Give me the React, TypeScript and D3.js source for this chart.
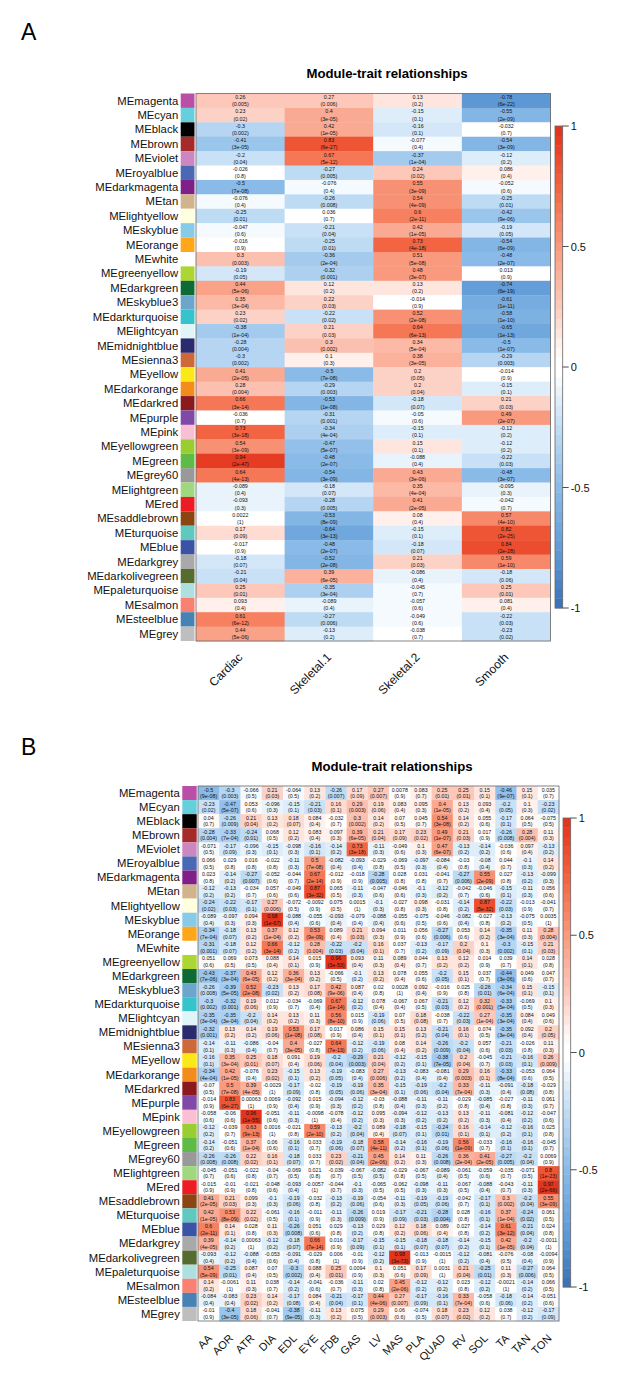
import React from "react";
import * as d3 from "d3";

const modules = ["MEmagenta","MEcyan","MEblack","MEbrown","MEviolet","MEroyalblue","MEdarkmagenta","MEtan","MElightyellow","MEskyblue","MEorange","MEwhite","MEgreenyellow","MEdarkgreen","MEskyblue3","MEdarkturquoise","MElightcyan","MEmidnightblue","MEsienna3","MEyellow","MEdarkorange","MEdarkred","MEpurple","MEpink","MEyellowgreen","MEgreen","MEgrey60","MElightgreen","MEred","MEsaddlebrown","MEturquoise","MEblue","MEdarkgrey","MEdarkolivegreen","MEpaleturquoise","MEsalmon","MEsteelblue","MEgrey"];
const moduleColors = ["#b94fa7","#65cfdc","#000000","#a52a2a","#cc86c0","#4b68b5","#7f2088","#d2b48c","#ffffe0","#87cbe8","#ffa61a","#ffffff","#acd632","#0e6b36","#6ca6cd","#36c4cc","#e0f5f8","#2a2a6e","#cd6839","#fbe816","#f28c1c","#8b1a1f","#8049a8","#f9c0d4","#9acd32","#5fbb46","#999999","#a0d87f","#ed1c24","#8b4513","#5fc9bf","#3a53a4","#a9a9a9","#556b2f","#afe0e0","#fa8072","#4682b4","#bebebe"];

const traitsA = ["Cardiac","Skeletal.1","Skeletal.2","Smooth"];
const rA = [
[0.26,0.27,0.13,-0.78],[0.23,0.4,-0.15,-0.55],[-0.3,0.42,-0.16,-0.032],[-0.41,0.83,-0.077,-0.54],[-0.2,0.67,-0.37,-0.12],
[-0.026,-0.27,0.24,0.086],[-0.5,-0.076,0.55,-0.052],[-0.076,-0.26,0.54,-0.25],[-0.25,0.036,0.6,-0.42],[-0.047,-0.21,0.42,-0.19],
[-0.016,-0.25,0.73,-0.54],[0.3,-0.36,0.51,-0.48],[-0.19,-0.32,0.48,0.013],[0.44,0.12,0.13,-0.74],[0.35,0.22,-0.014,-0.61],
[0.23,-0.22,0.52,-0.58],[-0.38,0.21,0.64,-0.65],[-0.28,0.3,0.34,-0.5],[-0.3,0.1,0.38,-0.29],[0.41,-0.5,0.2,-0.014],
[0.28,-0.29,0.2,-0.15],[0.66,-0.53,-0.18,0.21],[-0.036,-0.31,-0.05,0.49],[0.73,-0.34,-0.15,-0.12],[0.54,-0.47,0.15,-0.12],
[0.94,-0.48,-0.088,-0.22],[0.64,-0.54,0.43,-0.48],[-0.089,-0.18,0.35,-0.095],[-0.093,-0.28,0.41,-0.042],[0.0022,-0.53,0.08,0.57],
[0.17,-0.64,-0.15,0.82],[-0.017,-0.48,-0.18,0.84],[-0.18,-0.52,0.21,0.59],[-0.21,0.39,-0.086,-0.18],[0.25,-0.35,-0.045,0.25],
[0.093,-0.089,-0.057,0.081],[0.61,-0.27,-0.049,-0.22],[0.44,-0.13,-0.038,-0.23]];
const pA = [
["0.005","0.006","0.2","6e-22"],["0.02","3e-05","0.1","2e-09"],["0.002","1e-05","0.1","0.7"],["3e-05","6e-27","0.4","3e-09"],["0.04","5e-12","1e-04","0.2"],
["0.8","0.005","0.02","0.4"],["7e-08","0.4","3e-09","0.6"],["0.4","0.008","4e-09","0.01"],["0.01","0.7","2e-11","9e-06"],["0.6","0.04","1e-05","0.05"],
["0.9","0.01","4e-18","6e-09"],["0.003","2e-04","5e-08","2e-07"],["0.05","0.001","3e-07","0.9"],["5e-06","0.2","0.2","6e-19"],["3e-04","0.03","0.9","1e-11"],
["0.02","0.02","2e-08","1e-10"],["1e-04","0.03","6e-13","1e-13"],["0.004","0.002","5e-04","1e-07"],["0.002","0.3","3e-05","0.003"],["2e-05","7e-08","0.05","0.9"],
["0.004","0.003","0.04","0.1"],["3e-14","1e-08","0.07","0.03"],["0.7","0.001","0.6","2e-07"],["3e-18","4e-04","0.1","0.2"],["3e-09","5e-07","0.1","0.2"],
["2e-47","2e-07","0.4","0.03"],["4e-13","3e-09","3e-06","3e-07"],["0.4","0.07","4e-04","0.3"],["0.3","0.005","2e-05","0.7"],["1","8e-09","0.4","4e-10"],
["0.09","3e-13","0.1","2e-25"],["0.9","2e-07","0.07","2e-28"],["0.07","2e-08","0.03","1e-10"],["0.04","6e-05","0.4","0.06"],["0.01","3e-04","0.7","0.01"],
["0.4","0.4","0.6","0.4"],["6e-12","0.006","0.6","0.03"],["5e-06","0.2","0.7","0.02"]];

const traitsB = ["AA","AOR","ATR","DIA","EDL","EYE","FDB","GAS","LV","MAS","PLA","QUAD","RV","SOL","TA","TAN","TON"];
const rB = [
[-0.5,-0.3,-0.066,0.21,-0.064,0.13,-0.26,0.17,0.27,0.0078,0.083,0.25,0.25,0.15,-0.46,0.15,0.035],
[-0.23,-0.47,0.053,-0.096,-0.15,-0.21,0.16,0.29,0.19,0.083,0.095,0.4,0.13,0.093,-0.2,0.1,-0.23],
[0.04,-0.26,0.21,0.13,0.18,0.084,-0.032,0.3,0.14,0.07,0.045,0.54,0.14,0.055,-0.17,0.064,-0.075],
[-0.28,-0.33,-0.24,0.068,0.12,0.083,0.097,0.39,0.21,0.17,0.23,0.49,0.21,0.017,-0.26,0.28,0.11],
[-0.071,-0.17,-0.096,-0.15,-0.098,-0.16,-0.14,0.73,-0.11,-0.049,0.1,0.47,-0.13,-0.14,-0.036,0.097,-0.13],
[0.066,0.029,0.016,-0.022,-0.11,0.5,-0.082,-0.093,-0.029,-0.069,-0.097,-0.084,-0.03,-0.08,0.044,-0.1,0.14],
[0.023,-0.14,-0.27,-0.052,-0.044,0.67,-0.012,-0.018,-0.28,0.028,0.031,-0.041,-0.27,0.55,0.027,-0.13,-0.099],
[-0.12,-0.13,-0.034,0.057,-0.049,0.87,0.065,-0.11,-0.047,-0.046,-0.1,-0.12,-0.042,-0.046,-0.15,-0.11,0.056],
[-0.24,-0.22,-0.17,0.27,-0.072,-0.0092,0.075,0.0015,-0.1,-0.027,0.098,-0.031,-0.14,0.87,-0.22,-0.013,-0.041],
[-0.089,-0.097,0.094,0.98,-0.088,-0.055,-0.093,-0.079,-0.088,-0.055,-0.075,-0.046,-0.082,-0.027,-0.13,-0.075,0.0035],
[-0.34,-0.18,0.13,0.37,0.12,0.53,0.089,0.21,0.094,0.011,0.056,-0.27,0.053,0.14,-0.35,0.11,0.28],
[-0.31,-0.18,0.12,0.66,-0.12,0.28,-0.22,-0.2,0.16,0.037,-0.13,-0.17,0.2,0.1,-0.3,-0.15,0.21],
[0.051,0.069,0.073,0.088,0.14,0.015,0.96,0.093,0.11,0.089,0.044,0.13,0.12,0.014,0.039,0.14,0.028],
[-0.43,-0.37,0.43,0.12,0.36,0.13,-0.066,-0.1,0.13,0.078,0.055,-0.2,0.15,0.037,-0.44,0.049,0.047],
[-0.26,-0.39,0.52,-0.23,0.13,0.17,0.42,0.087,0.02,0.0028,0.092,-0.016,0.025,-0.26,-0.34,0.15,-0.15],
[-0.3,-0.32,0.19,0.012,-0.034,-0.069,0.67,-0.12,0.078,-0.067,0.067,-0.21,0.12,0.32,-0.33,-0.069,0.1],
[-0.35,-0.35,-0.2,0.14,0.13,0.11,0.56,0.015,-0.19,0.07,0.18,-0.038,-0.22,0.27,-0.35,0.084,0.049],
[-0.32,0.13,0.14,0.19,0.53,0.17,0.017,0.086,0.15,0.15,0.13,-0.21,0.16,0.074,-0.35,0.092,0.2],
[-0.14,-0.11,-0.086,-0.04,0.4,-0.027,0.64,-0.12,-0.19,0.08,0.14,-0.26,-0.2,0.057,-0.21,-0.026,0.11],
[-0.16,0.35,0.25,0.18,0.091,0.19,-0.2,-0.29,0.21,-0.12,-0.15,-0.38,0.2,-0.045,-0.21,-0.16,0.26],
[-0.34,0.42,-0.076,0.23,-0.15,0.13,-0.19,-0.083,0.27,-0.13,-0.083,-0.081,0.29,0.16,-0.33,-0.053,0.064],
[-0.07,0.5,0.39,-0.0029,-0.17,-0.02,-0.19,-0.19,0.35,-0.15,-0.19,-0.2,0.33,-0.11,-0.091,-0.18,-0.029],
[-0.014,0.83,0.00063,0.0069,-0.092,0.015,-0.094,-0.12,-0.03,-0.088,-0.11,-0.11,-0.029,-0.085,-0.027,-0.11,0.061],
[-0.058,-0.06,0.96,-0.051,-0.11,-0.0098,-0.078,-0.12,0.095,-0.094,-0.12,-0.13,0.13,-0.11,-0.081,-0.12,-0.047],
[-0.12,-0.039,0.63,0.0016,-0.021,0.59,-0.13,-0.2,0.089,-0.18,-0.15,-0.24,0.16,-0.14,-0.12,-0.16,0.025],
[-0.14,-0.051,0.37,0.06,-0.16,0.033,-0.19,-0.18,0.58,-0.14,-0.16,-0.19,0.56,-0.033,-0.16,-0.16,-0.045],
[-0.26,-0.26,0.22,0.16,-0.18,0.033,0.23,-0.21,0.45,0.14,0.11,-0.26,0.36,0.41,-0.27,-0.2,0.0069],
[-0.045,-0.051,-0.022,-0.04,-0.069,0.021,-0.039,-0.067,-0.082,-0.029,-0.067,-0.089,-0.061,-0.059,-0.035,-0.071,0.8],
[-0.015,-0.01,-0.021,-0.048,-0.093,-0.0057,-0.044,-0.1,-0.065,-0.062,-0.098,-0.11,-0.067,-0.088,-0.043,-0.11,0.97],
[0.41,0.21,0.099,-0.1,-0.19,-0.032,-0.13,-0.19,-0.054,-0.11,-0.19,-0.19,-0.042,-0.17,0.3,-0.2,0.55],
[0.42,0.53,0.22,-0.061,-0.16,-0.011,-0.11,-0.26,0.019,-0.17,-0.21,-0.28,0.028,-0.16,0.37,-0.24,0.061],
[0.6,0.14,0.028,0.11,-0.26,0.051,0.029,-0.13,0.029,0.12,0.18,0.089,0.027,-0.14,0.61,-0.21,0.024],
[0.39,-0.14,0.00063,-0.12,-0.18,0.66,0.016,-0.17,-0.15,-0.15,-0.18,-0.18,-0.14,-0.15,0.42,-0.2,-0.0011],
[-0.093,-0.12,-0.088,-0.053,-0.091,-0.029,0.006,-0.01,-0.12,0.98,-0.013,-0.0015,-0.12,-0.081,-0.076,-0.08,-0.0094],
[0.54,-0.25,0.087,0.07,-0.3,0.088,0.25,0.0094,0.1,0.051,0.17,0.0031,0.21,-0.25,0.11,-0.27,0.064],
[0.14,-0.0061,0.11,0.038,-0.14,-0.041,-0.036,-0.11,0.02,0.45,-0.12,-0.12,0.023,-0.12,-0.0021,-0.14,0.066],
[-0.084,-0.083,0.23,0.14,-0.17,0.084,-0.21,-0.17,0.44,0.27,-0.17,-0.16,0.33,-0.058,-0.18,-0.14,-0.051],
[-0.01,-0.4,0.18,-0.041,-0.38,-0.11,0.13,0.075,0.29,0.06,-0.074,0.18,0.23,0.12,0.038,-0.12,-0.17]];
const pB = [
"9e-08 0.003 0.5 0.03 0.5 0.2 0.007 0.09 0.007 0.9 0.7 0.01 0.01 0.1 9e-07 0.1 0.7",
"0.02 5e-07 0.6 0.3 0.1 0.03 0.1 0.003 0.06 0.4 0.3 1e-05 0.2 0.4 0.05 0.3 0.02",
"0.7 0.009 0.04 0.2 0.07 0.4 0.7 0.002 0.2 0.5 0.7 3e-08 0.2 0.6 0.1 0.5 0.5",
"0.004 7e-04 0.01 0.5 0.2 0.4 0.3 6e-05 0.04 0.09 0.02 1e-07 0.03 0.9 0.008 0.004 0.3",
"0.5 0.09 0.3 0.1 0.3 0.1 0.2 3e-18 0.3 0.6 0.3 6e-07 0.2 0.2 0.6 0.4 0.2",
"0.5 0.8 0.8 0.8 0.3 7e-08 0.4 0.4 0.8 0.5 0.3 0.4 0.8 0.4 0.7 0.3 0.2",
"0.8 0.2 0.007 0.6 0.7 2e-14 0.9 0.9 0.005 0.8 0.8 0.7 0.006 2e-09 0.8 0.2 0.3",
"0.2 0.2 0.7 0.6 0.6 3e-32 0.5 0.3 0.6 0.6 0.3 0.2 0.7 0.6 0.1 0.3 0.6",
"0.02 0.03 0.1 0.006 0.5 0.9 0.5 1 0.3 0.8 0.3 0.8 0.2 5e-32 0.03 0.9 0.7",
"0.4 0.3 0.3 1e-67 0.4 0.6 0.4 0.4 0.4 0.6 0.5 0.6 0.4 0.8 0.2 0.5 1",
"7e-04 0.07 0.2 1e-04 0.2 9e-09 0.4 0.03 0.3 0.9 0.6 0.006 0.6 0.2 3e-04 0.3 0.004",
"0.001 0.07 0.2 3e-14 0.2 0.004 0.03 0.04 0.1 0.7 0.2 0.09 0.04 0.3 0.002 0.1 0.03",
"0.6 0.5 0.5 0.4 0.1 0.9 3e-53 0.4 0.3 0.4 0.7 0.2 0.2 0.9 0.7 0.1 0.8",
"7e-06 3e-04 6e-05 0.2 3e-04 0.2 0.5 0.2 0.2 0.4 0.6 0.05 0.1 0.7 3e-06 0.6 0.7",
"0.008 5e-05 2e-08 0.02 0.2 0.08 9e-06 0.4 0.8 1 0.4 0.9 0.8 0.01 6e-04 0.1 0.1",
"0.002 0.001 0.06 0.9 0.7 0.4 1e-14 0.2 0.4 0.4 0.5 0.03 0.2 0.001 5e-04 0.5 0.3",
"3e-04 3e-04 0.04 0.2 0.2 0.3 8e-10 0.9 0.06 0.5 0.08 0.7 0.03 1e-04 3e-04 0.4 0.6",
"0.001 0.2 0.2 0.06 1e-08 0.08 0.9 0.4 0.1 0.1 0.2 0.04 0.1 0.5 3e-04 0.4 0.05",
"0.1 0.3 0.4 0.7 3e-05 0.8 7e-13 0.2 0.06 0.4 0.2 0.009 0.04 0.6 0.03 0.8 0.3",
"0.1 3e-04 0.01 0.07 0.4 0.06 0.04 0.003 0.04 0.2 0.1 7e-05 0.04 0.7 0.03 0.1 0.009",
"4e-04 1e-05 0.4 0.02 0.1 0.2 0.05 0.4 0.006 0.2 0.4 0.4 0.003 0.1 8e-04 0.6 0.5",
"0.5 7e-08 4e-05 1 0.09 0.8 0.05 0.06 3e-04 0.1 0.06 0.04 7e-04 0.3 0.4 0.08 0.8",
"0.9 6e-27 1 0.9 0.4 0.9 0.3 0.2 0.8 0.4 0.3 0.2 0.8 0.4 0.8 0.3 0.7",
"0.6 0.6 1e-55 0.6 0.3 1 0.4 0.2 0.3 0.3 0.2 0.2 0.2 0.3 0.4 0.2 0.6",
"0.2 0.7 9e-13 1 0.8 2e-10 0.2 0.04 0.4 0.07 0.1 0.01 0.1 0.1 0.2 0.1 0.8",
"0.2 0.6 1e-04 0.6 0.1 0.7 0.06 0.07 4e-11 0.2 0.1 0.06 1e-09 0.7 0.1 0.1 0.7",
"0.008 0.008 0.02 0.1 0.07 0.7 0.02 0.04 2e-06 0.2 0.3 0.008 2e-04 2e-05 0.005 0.04 0.9",
"0.7 0.6 0.8 0.7 0.5 0.8 0.7 0.5 0.5 0.8 0.5 0.4 0.5 0.6 0.7 0.5 1e-23",
"0.9 0.9 0.8 0.6 0.4 1 0.7 0.3 0.5 0.5 0.3 0.3 0.5 0.4 0.7 0.3 2e-66",
"2e-05 0.03 0.3 0.3 0.06 0.8 0.2 0.06 0.6 0.3 0.05 0.06 0.7 0.1 0.002 0.04 3e-09",
"1e-05 8e-09 0.02 0.5 0.1 0.9 0.3 0.009 0.9 0.09 0.03 0.004 0.8 0.1 1e-04 0.02 0.5",
"2e-11 0.1 0.8 0.3 0.008 0.6 0.8 0.2 0.8 0.2 0.06 0.4 0.8 0.2 3e-12 0.04 0.8",
"4e-05 0.2 1 0.2 0.07 7e-14 0.9 0.09 0.1 0.1 0.07 0.07 0.2 0.1 1e-05 0.04 1",
"0.4 0.2 0.4 0.6 0.4 0.8 1 0.9 0.2 3e-73 0.9 1 0.2 0.4 0.5 0.4 0.9",
"5e-09 0.01 0.4 0.5 0.002 0.4 0.01 0.9 0.3 0.6 0.09 1 0.04 0.01 0.3 0.006 0.5",
"0.2 1 0.3 0.7 0.2 0.6 0.7 0.3 0.8 2e-06 0.2 0.2 0.8 0.2 1 0.2 0.5",
"0.4 0.4 0.02 0.2 0.08 0.4 0.04 0.1 4e-06 0.007 0.09 0.1 7e-04 0.6 0.06 0.2 0.6",
"0.9 3e-05 0.06 0.7 9e-05 0.3 0.2 0.5 0.003 0.6 0.5 0.07 0.02 0.2 0.7 0.2 0.09"
].map((s) => s.split(" "));

const legendTicks = [1, 0.5, 0, -0.5, -1];
const legendLevels = d3.range(50).map((i) => -1 + (i + 0.5) * 0.04);

const rawColor = d3
  .scaleLinear<string>()
  .domain([-1, -0.8, -0.5, -0.25, -0.1, -0.03, 0.03, 0.1, 0.25, 0.5, 0.75, 1])
  .range(["#3a6fb5", "#5a96d3", "#8abbe8", "#c0dcf4", "#e8f3fc", "#ffffff", "#ffffff", "#fff0eb", "#fdcabd", "#f99a7e", "#f3633f", "#e2301a"])
  .interpolate(d3.interpolateRgb)
  .clamp(true);
const cellColor = (v: number) => rawColor(Math.abs(v) < 0.04 ? 0 : Math.sign(v) * (Math.floor(Math.abs(v) / 0.04) + 0.5) * 0.04);

const FONT = "'Liberation Sans', Arial, sans-serif";

type PanelProps = {
  letter: string; letterY: number; titleX: number; titleY: number;
  x0: number; x1: number; y0: number; y1: number;
  swatchX0: number; swatchX1: number;
  barX0: number; barX1: number; barY0: number; barY1: number;
  traits: string[]; r: number[][]; p: string[][];
  cellFont: number; lineGap: number; lineOffset: number; labelFont: number; traitFont: number; traitDy: number; traitDx: number;
};

function Panel(o: PanelProps) {
  const x = d3.scaleBand<string>().domain(o.traits).range([o.x0, o.x1]);
  const y = d3.scaleBand<string>().domain(modules).range([o.y0, o.y1]);
  const bar = d3.scaleLinear().domain([-1, 1]).range([o.barY1, o.barY0]);
  return (
    <g fontFamily={FONT}>
      <text x={21} y={o.letterY} fontSize={23} fill="#000">{o.letter}</text>
      <text x={o.titleX} y={o.titleY} fontSize={13.2} fontWeight="bold" textAnchor="middle" fill="#000">Module-trait relationships</text>
      {modules.map((m, i) => (
        <g key={m}>
          <rect x={o.swatchX0} y={y(m)!} width={o.swatchX1 - o.swatchX0} height={y.bandwidth()} fill={moduleColors[i]} />
          <text x={o.swatchX0 - 2.5} y={y(m)! + y.bandwidth() / 2 + 3.9} fontSize={o.labelFont} textAnchor="end" fill="#111">{m}</text>
          {o.traits.map((t, j) => (
            <g key={t}>
              <rect x={x(t)!} y={y(m)!} width={x.bandwidth() + 0.4} height={y.bandwidth() + 0.4} fill={cellColor(o.r[i][j])} />
              <text x={x(t)! + x.bandwidth() / 2} y={y(m)! + y.bandwidth() / 2 + o.lineOffset} fontSize={o.cellFont} textAnchor="middle" fill="#111">{String(o.r[i][j])}</text>
              <text x={x(t)! + x.bandwidth() / 2} y={y(m)! + y.bandwidth() / 2 + o.lineOffset + o.lineGap} fontSize={o.cellFont} textAnchor="middle" fill="#111">({o.p[i][j]})</text>
            </g>
          ))}
        </g>
      ))}
      <rect x={o.x0} y={o.y0} width={o.x1 - o.x0} height={o.y1 - o.y0} fill="none" stroke="#666" strokeWidth={0.8} />
      {o.traits.map((t) => {
        const cx = x(t)! + x.bandwidth() / 2 + o.traitDx;
        const cy = o.y1 + o.traitDy;
        return (
          <text key={t} transform={`translate(${cx},${cy}) rotate(-45)`} fontSize={o.traitFont} textAnchor="end" fill="#111">{t}</text>
        );
      })}
      {legendLevels.map((v) => (
        <rect key={v} x={o.barX0} y={bar(v + 0.02)} width={o.barX1 - o.barX0} height={bar(v - 0.02) - bar(v + 0.02) + 0.4} fill={cellColor(v)} />
      ))}
      <rect x={o.barX0} y={o.barY0} width={o.barX1 - o.barX0} height={o.barY1 - o.barY0} fill="none" stroke="#666" strokeWidth={0.8} />
      {legendTicks.map((t) => (
        <g key={t}>
          <line x1={o.barX1} x2={o.barX1 + 6} y1={bar(t)} y2={bar(t)} stroke="#222" strokeWidth={0.8} />
          <text x={o.barX1 + 8} y={bar(t) + 4} fontSize={11} fill="#111">{String(t)}</text>
        </g>
      ))}
    </g>
  );
}

export default function App() {
  return (
    <svg width={630} height={1391} style={{ position: "absolute", left: 0, top: 0, background: "#fff" }}>
      <Panel letter="A" letterY={40} titleX={387} titleY={77.5} x0={196} x1={550.5} y0={93.5} y1={641}
        swatchX0={180.7} swatchX1={194.5} barX0={555} barX1={562.7} barY0={126} barY1={608}
        traits={traitsA} r={rA} p={pA} cellFont={5.3} lineGap={7.2} lineOffset={-1.8} labelFont={11.3} traitFont={12} traitDy={17} traitDx={3} />
      <Panel letter="B" letterY={755} titleX={392} titleY={771} x0={198} x1={559} y0={786} y1={1321}
        swatchX0={182.3} swatchX1={196.7} barX0={563} barX1={570.7} barY0={818} barY1={1287}
        traits={traitsB} r={rB} p={pB} cellFont={5.3} lineGap={6.6} lineOffset={-1.5} labelFont={11.3} traitFont={11} traitDy={18} traitDx={4} />
    </svg>
  );
}
